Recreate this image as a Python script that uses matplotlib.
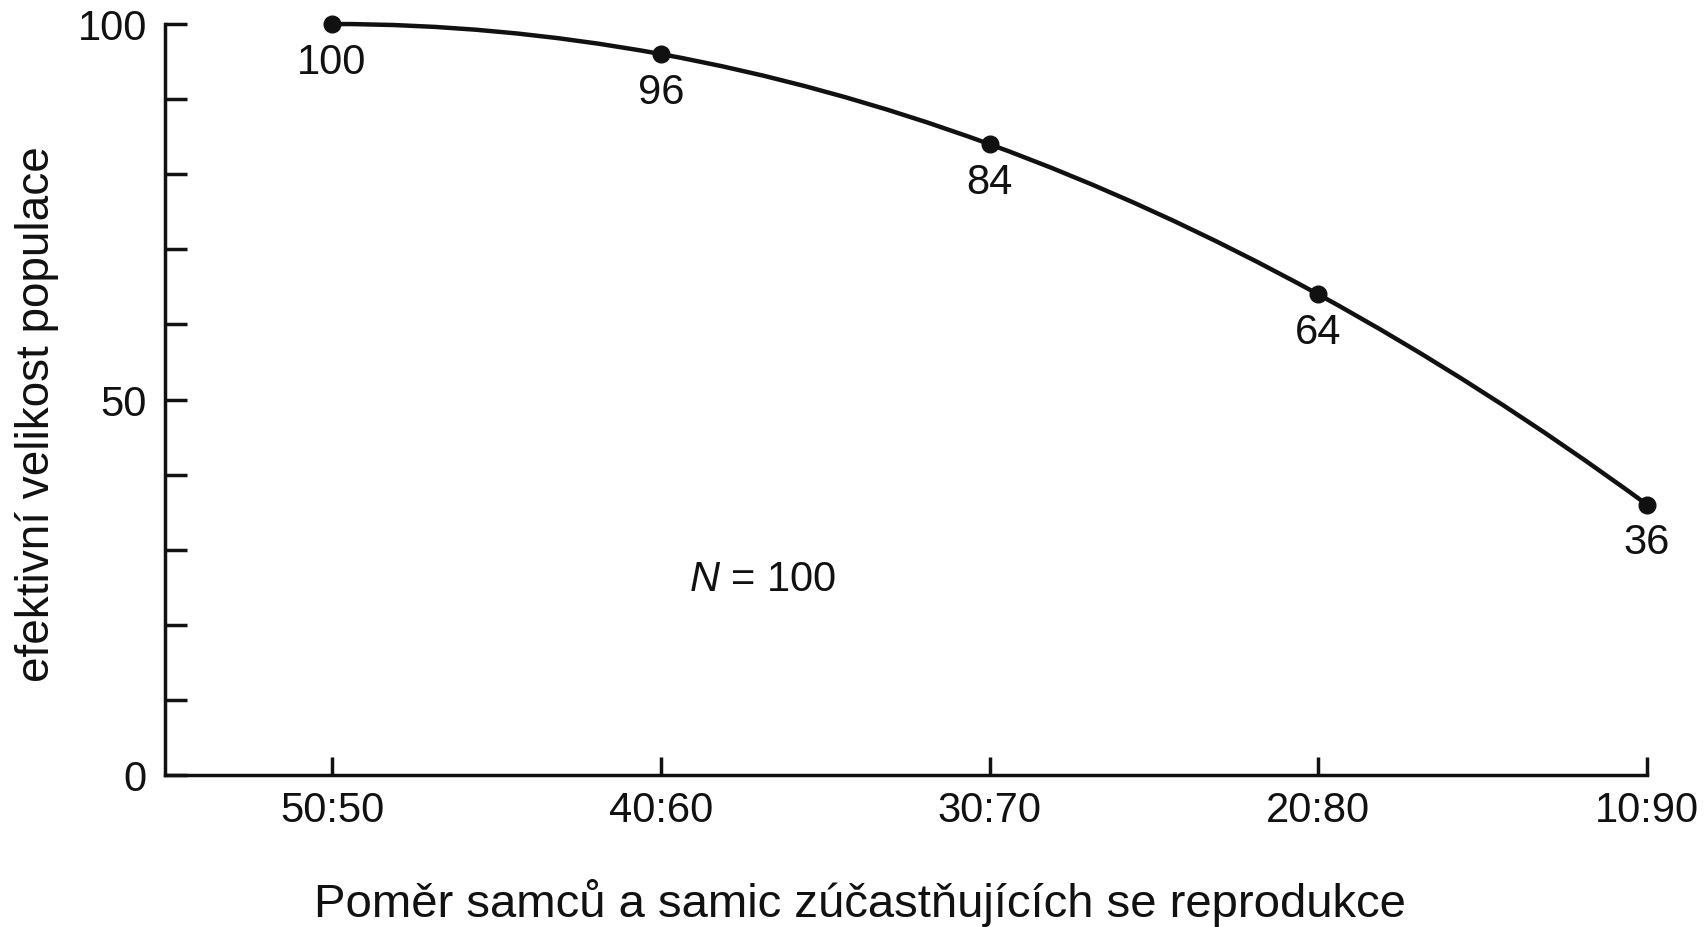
import matplotlib
matplotlib.use("Agg")
import matplotlib.pyplot as plt
from matplotlib.path import Path
from matplotlib.patches import PathPatch
import numpy as np

# ---- data ----
ratios = ["50:50", "40:60", "30:70", "20:80", "10:90"]
ne_values = [100, 96, 84, 64, 36]
y_major = [0, 50, 100]
y_minor = [10, 20, 30, 40, 60, 70, 80, 90]
annotation = "$N$ = 100"
xlabel = "Poměr samců a samic zúčastňujících se reprodukce"
ylabel = "efektivní velikost populace"

plt.rcParams['font.family'] = ['Liberation Sans', 'DejaVu Sans']
plt.rcParams['mathtext.fontset'] = 'custom'
plt.rcParams['mathtext.it'] = 'Liberation Sans:italic'
plt.rcParams['mathtext.rm'] = 'Liberation Sans'
INK = '#111111'

W, H = 1707, 928
fig = plt.figure(figsize=(W / 100, H / 100), dpi=100)
fig.patch.set_facecolor('white')

left, right = 165 / W, 1647 / W
bottom, top = 1 - 776 / H, 1 - 25 / H
ax = fig.add_axes([left, bottom, right - left, top - bottom])

x = np.arange(len(ratios))
xmin = -(332 - 165) / ((1647 - 332) / 4)
ax.set_xlim(xmin, len(ratios) - 1)
ax.set_ylim(0, 100)

# smooth curve through the points (Catmull-Rom as cubic Bezier)
pts = np.column_stack([x, ne_values]).astype(float)
first = 3 * pts[0] - 3 * pts[1] + pts[2]
last = 3 * pts[-1] - 3 * pts[-2] + pts[-3]
ext = np.vstack([first, pts, last])
verts = [tuple(pts[0])]
codes = [Path.MOVETO]
for i in range(1, len(ext) - 2):
    p0, p1, p2, p3 = ext[i - 1], ext[i], ext[i + 1], ext[i + 2]
    c1 = p1 + (p2 - p0) / 6
    c2 = p2 - (p3 - p1) / 6
    verts += [tuple(c1), tuple(c2), tuple(p2)]
    codes += [Path.CURVE4] * 3
patch = PathPatch(Path(verts, codes), facecolor='none', edgecolor=INK,
                  lw=3.2, clip_on=False, capstyle='round')
ax.add_patch(patch)
ax.plot(x, ne_values, 'o', color=INK, ms=12, clip_on=False, zorder=5)

for xi, v in zip(x, ne_values):
    ax.annotate(str(v), (xi, v), xytext=(0, -27), textcoords='offset points',
                ha='center', va='center', fontsize=30, color=INK)

ax.text(1.31, 26.1, annotation, ha='center', va='center', fontsize=30, color=INK)

# axes styling
for s in ['top', 'right']:
    ax.spines[s].set_visible(False)
for s in ['left', 'bottom']:
    ax.spines[s].set_linewidth(2.5)
    ax.spines[s].set_color(INK)
    ax.spines[s].set_capstyle('projecting')

ax.set_xticks(x)
ax.set_xticklabels(ratios)
ax.set_yticks(y_major)
ax.set_yticks(y_minor, minor=True)
ax.tick_params(axis='y', which='both', direction='in', length=16, width=2.5,
               color=INK, labelsize=30, labelcolor=INK, pad=13)
ax.tick_params(axis='x', which='both', direction='in', length=13, width=2.5,
               color=INK, labelsize=30, labelcolor=INK, pad=11)

fig.text(37 / W, 1 - 414 / H, ylabel, rotation=90, ha='center', va='center',
         fontsize=33, color=INK)
fig.text(860 / W, 1 - 903 / H, xlabel, ha='center', va='center',
         fontsize=34, color=INK)

fig.savefig("out.png", dpi=100, facecolor='white')
